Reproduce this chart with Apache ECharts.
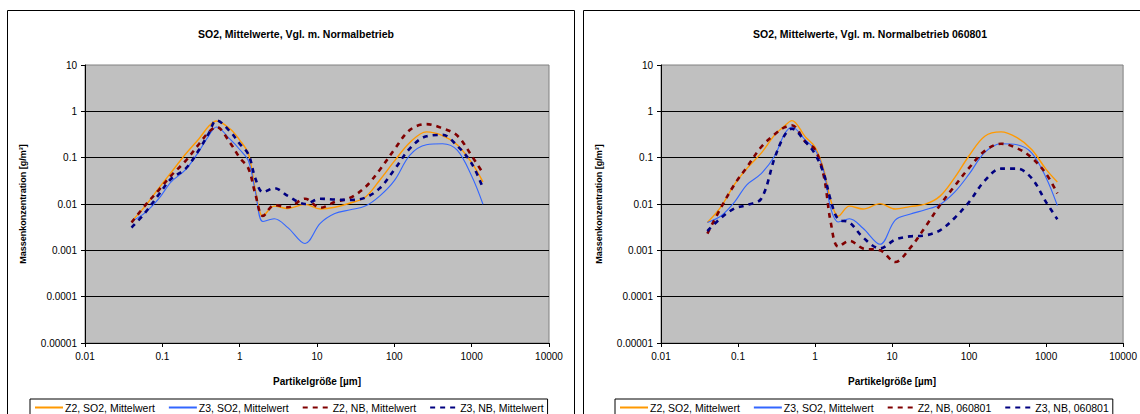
<!DOCTYPE html>
<html>
<head>
<meta charset="utf-8">
<script src="https://cdn.jsdelivr.net/npm/echarts@6/dist/echarts.min.js"></script>
<style>
html,body{margin:0;padding:0;background:#fff;}
#c{width:1140px;height:414px;}
</style>
</head>
<body>
<div id="c"></div>
<script>
// Particle size classes [µm]
const sizes = [0.04, 0.06, 0.09, 0.13, 0.2, 0.3, 0.4, 0.5, 0.75, 1.0, 1.3, 1.6, 2.0, 2.8, 4.2, 7, 11, 17, 27, 42, 65, 100, 160, 260, 420, 650, 1000, 1400];

// Left chart: SO2, Mittelwerte, Vgl. m. Normalbetrieb
const leftZ2SO2 = [0.0042, 0.009, 0.022, 0.048, 0.12, 0.26, 0.48, 0.62, 0.42, 0.24, 0.12, 0.02, 0.0055, 0.009, 0.008, 0.0098, 0.0078, 0.0085, 0.0105, 0.014, 0.033, 0.084, 0.215, 0.36, 0.30, 0.19, 0.078, 0.03];
const leftZ3SO2 = [0.0042, 0.0065, 0.013, 0.03, 0.055, 0.14, 0.3, 0.46, 0.25, 0.15, 0.085, 0.018, 0.0042, 0.0048, 0.0031, 0.0014, 0.0038, 0.0062, 0.0075, 0.009, 0.015, 0.032, 0.115, 0.19, 0.2, 0.145, 0.04, 0.0099];
const leftZ2NB  = [0.004, 0.0093, 0.02, 0.041, 0.085, 0.2, 0.36, 0.46, 0.21, 0.1, 0.058, 0.016, 0.0055, 0.0095, 0.0085, 0.013, 0.0083, 0.011, 0.0137, 0.023, 0.055, 0.15, 0.4, 0.53, 0.43, 0.3, 0.11, 0.046];
const leftZ3NB  = [0.0031, 0.0065, 0.016, 0.035, 0.058, 0.15, 0.34, 0.64, 0.37, 0.2, 0.117, 0.035, 0.018, 0.022, 0.015, 0.010, 0.013, 0.0125, 0.0122, 0.0137, 0.022, 0.055, 0.16, 0.29, 0.31, 0.18, 0.075, 0.022];

// Right chart: SO2, Mittelwerte, Vgl. m. Normalbetrieb 060801
const rightZ2SO2 = [0.004, 0.0087, 0.0265, 0.058, 0.125, 0.31, 0.48, 0.63, 0.28, 0.17, 0.055, 0.012, 0.0055, 0.009, 0.0078, 0.0102, 0.0078, 0.0088, 0.0099, 0.0148, 0.037, 0.11, 0.29, 0.36, 0.27, 0.15, 0.056, 0.03];
const rightZ3SO2 = [0.004, 0.0055, 0.011, 0.026, 0.045, 0.11, 0.32, 0.46, 0.24, 0.15, 0.05, 0.008, 0.0041, 0.0048, 0.003, 0.00135, 0.0045, 0.006, 0.0075, 0.0098, 0.018, 0.044, 0.13, 0.2, 0.19, 0.127, 0.037, 0.0093];
const rightZ2NB  = [0.0023, 0.0083, 0.0265, 0.062, 0.17, 0.32, 0.45, 0.5, 0.22, 0.15, 0.04, 0.004, 0.0012, 0.0016, 0.0011, 0.001, 0.00056, 0.0011, 0.0032, 0.0095, 0.0245, 0.06, 0.14, 0.2, 0.16, 0.1, 0.045, 0.017];
const rightZ3NB  = [0.0026, 0.005, 0.008, 0.0095, 0.013, 0.1, 0.3, 0.42, 0.22, 0.12, 0.045, 0.012, 0.0047, 0.004, 0.0019, 0.0011, 0.0017, 0.002, 0.0021, 0.0027, 0.005, 0.011, 0.032, 0.058, 0.058, 0.036, 0.011, 0.0047];

const xTickLabels = ['0.01', '0.1', '1', '10', '100', '1000', '10000'];
const yTickLabels = ['0.00001', '0.0001', '0.001', '0.01', '0.1', '1', '10'];

const titles = ['SO2, Mittelwerte, Vgl. m. Normalbetrieb', 'SO2, Mittelwerte, Vgl. m. Normalbetrieb 060801'];
const leftNames = ['Z2, SO2, Mittelwert', 'Z3, SO2, Mittelwert', 'Z2, NB, Mittelwert', 'Z3, NB, Mittelwert'];
const rightNames = ['Z2, SO2, Mittelwert', 'Z3, SO2, Mittelwert', 'Z2, NB, 060801', 'Z3, NB, 060801'];
const xName = 'Partikelgröße [µm]';
const yName = 'Massenkonzentration [g/m³]';

const FONT = '"Liberation Sans", Arial, sans-serif';
const colors = ['#ff9900', '#3366ff', '#800000', '#000080'];

function pairs(vals) { return sizes.map((s, i) => [s, vals[i]]); }

function makeSeries(names, valsList, idx) {
  return valsList.map((vals, k) => {
    const dashed = k >= 2;
    return {
      name: names[k],
      type: 'line',
      xAxisIndex: idx,
      yAxisIndex: idx,
      data: pairs(vals),
      smooth: 0.35,
      showSymbol: false,
      symbol: 'none',
      clip: true,
      z: 2 + k,
      lineStyle: dashed
        ? { color: colors[k], width: 2.6, type: [5, 5] }
        : { color: colors[k], width: k === 0 ? 1.4 : 1.1 },
      itemStyle: { color: colors[k] },
      emphasis: { disabled: true }
    };
  });
}

function xAxis(idx) {
  return {
    type: 'log', logBase: 10, gridIndex: idx, min: 0.01, max: 10000, interval: 1, splitNumber: 6,
    name: xName, nameLocation: 'middle', nameGap: 33,
    nameTextStyle: { fontFamily: FONT, fontSize: 10, fontWeight: 'bold', color: '#000' },
    axisLine: { show: true, lineStyle: { color: '#000', width: 1 } },
    axisTick: { show: true, length: 4, lineStyle: { color: '#000' } },
    axisLabel: { fontFamily: FONT, fontSize: 10, color: '#000', margin: 8,
      formatter: v => xTickLabels[Math.round(Math.log10(v)) + 2] },
    splitLine: { show: false },
    minorTick: { show: false }
  };
}
function yAxis(idx) {
  return {
    type: 'log', logBase: 10, gridIndex: idx, min: 0.00001, max: 10, interval: 1, splitNumber: 6,
    name: yName, nameLocation: 'middle', nameGap: 58, nameRotate: 90,
    nameTextStyle: { fontFamily: FONT, fontSize: 9, fontWeight: 'bold', color: '#000' },
    axisLine: { show: true, lineStyle: { color: '#000', width: 1 } },
    axisTick: { show: true, length: 4, lineStyle: { color: '#000' } },
    axisLabel: { fontFamily: FONT, fontSize: 10, color: '#000', margin: 8,
      formatter: v => yTickLabels[Math.round(Math.log10(v)) + 5] },
    splitLine: { show: true, showMinLine: false, showMaxLine: false, lineStyle: { color: '#000', width: 1 } },
    minorTick: { show: false }
  };
}

function legend(names, left) {
  return {
    data: names.map(n => ({ name: n })),
    left: left, top: 399,
    orient: 'horizontal',
    itemWidth: 28, itemHeight: 8, itemGap: 13,
    padding: [3, 4, 3, 4],
    borderColor: '#000', borderWidth: 1,
    itemStyle: { opacity: 0, borderWidth: 0 },
    textStyle: { fontFamily: FONT, fontSize: 10.5, color: '#000', padding: [0, 0, 0, -3] },
    selectedMode: false
  };
}

const chart = echarts.init(document.getElementById('c'), null, { renderer: 'svg' });
chart.setOption({
  backgroundColor: '#fff',
  animation: false,
  color: colors,
  title: [
    { text: titles[0], left: 291, top: 23, textAlign: 'center',
      textStyle: { fontFamily: FONT, fontSize: 10.5, fontWeight: 'bold', color: '#000' } },
    { text: titles[1], left: 865, top: 23, textAlign: 'center',
      textStyle: { fontFamily: FONT, fontSize: 10.5, fontWeight: 'bold', color: '#000' } }
  ],
  graphic: [
    { type: 'rect', shape: { x: 7.5, y: 10.5, width: 567, height: 420 }, style: { fill: 'none', stroke: '#000', lineWidth: 1 }, z: -1 },
    { type: 'rect', shape: { x: 583.5, y: 10.5, width: 570, height: 420 }, style: { fill: 'none', stroke: '#000', lineWidth: 1 }, z: -1 }
  ],
  legend: [legend(leftNames, 30), legend(rightNames, 615)],
  grid: [
    { left: 85, top: 65, width: 464, height: 278, show: true, backgroundColor: '#c0c0c0', borderColor: '#808080', borderWidth: 1, containLabel: false },
    { left: 661, top: 65, width: 467, height: 278, show: true, backgroundColor: '#c0c0c0', borderColor: '#808080', borderWidth: 1, containLabel: false }
  ],
  xAxis: [xAxis(0), xAxis(1)],
  yAxis: [yAxis(0), yAxis(1)],
  series: [
    ...makeSeries(leftNames, [leftZ2SO2, leftZ3SO2, leftZ2NB, leftZ3NB], 0),
    ...makeSeries(rightNames, [rightZ2SO2, rightZ3SO2, rightZ2NB, rightZ3NB], 1)
  ]
});
</script>
</body>
</html>
